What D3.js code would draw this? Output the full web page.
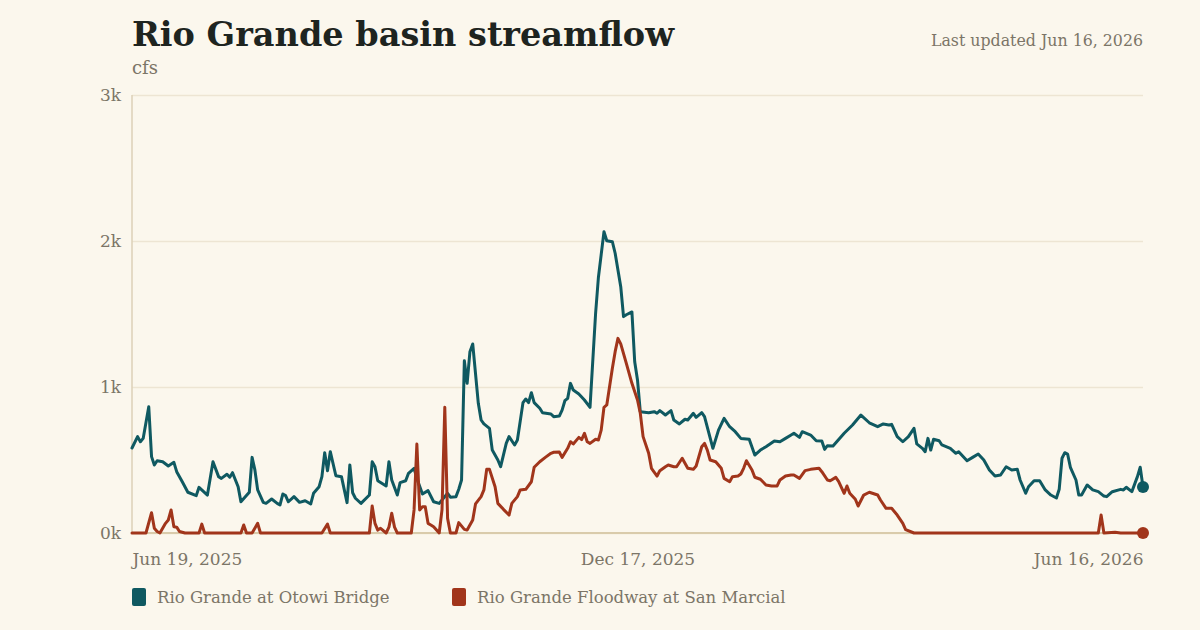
<!DOCTYPE html>
<html>
<head>
<meta charset="utf-8">
<script src="https://cdn.jsdelivr.net/npm/d3@7"></script>
<style>
  html, body { margin: 0; padding: 0; background: #fbf7ed; }
  svg { display: block; font-family: Georgia, "DejaVu Serif", serif; }
  .axis path { display: none; }
  .axis text { fill: #7b7567; font-size: 17px; font-family: Georgia, "DejaVu Serif", serif; }
</style>
</head>
<body>
<div id="chart"></div>
<script>
// days since Jun 19, 2025 and daily flow (cfs)
const startDate = "2025-06-19";
const endDate = "2026-06-16";

const otowiDays = [0, 2, 3, 4, 6, 7, 8, 9, 11, 13, 15, 16, 18, 20, 23, 24, 27, 29, 31, 32, 34, 35, 36, 38, 39,
  42, 43, 44, 45, 47, 48, 50, 52, 53, 54, 55, 56, 58, 60, 62, 64, 65, 67, 68, 69, 70, 71, 73, 75, 77, 78, 79, 80,
  82, 85, 86, 87, 88, 91, 92, 93, 95, 96, 98, 99, 101, 102, 104, 106, 108, 110, 113, 114, 116, 117, 118, 119,
  120, 121, 122, 124, 125, 126, 128, 129, 131, 132, 134, 135, 137, 138, 140, 141, 142, 143, 144, 146, 147,
  150, 151, 153, 154, 155, 156, 157, 158, 160, 162, 164, 166, 167, 169, 170, 172, 173, 175, 176, 177, 179,
  180, 181, 182, 185, 187, 188, 189, 191, 193, 194, 196, 198, 199, 201, 202, 204, 205, 208, 210, 212, 214,
  216, 218, 221, 223, 225, 227, 230, 232, 234, 236, 237, 239, 240, 243, 245, 247, 248, 249, 251, 255, 258,
  261, 264, 267, 269, 271, 272, 274, 276, 278, 280, 281, 283, 284, 285, 286, 287, 289, 290, 293, 295, 296,
  299, 301, 303, 305, 307, 309, 311, 313, 315, 317, 318, 320, 321, 323, 325, 327, 329, 331, 332, 333, 334,
  335, 336, 338, 339, 340, 342, 344, 346, 348, 349, 351, 354, 355, 356, 358, 360, 361, 362];
const otowiFlow = [582, 660, 625, 648, 865, 523, 466, 495, 488, 459, 484, 420, 351, 279, 256, 313, 260, 488, 386,
  374, 402, 382, 413, 317, 214, 279, 518, 432, 295, 210, 203, 233, 203, 192, 267, 256, 214, 249, 210, 221, 199,
  272, 317, 386, 550, 427, 557, 392, 386, 208, 466, 276, 238, 203, 260, 488, 454, 358, 322, 488, 363, 260, 345,
  358, 409, 443, 374, 267, 290, 214, 203, 272, 245, 249, 300, 363, 1180, 1025, 1242, 1295, 888, 774, 747, 717,
  568, 500, 454, 614, 660, 603, 637, 893, 918, 893, 961, 893, 854, 824, 815, 797, 801, 842, 906, 922, 1025,
  979, 952, 911, 861, 1505, 1750, 2064, 2002, 1995, 1916, 1687, 1482, 1495, 1514, 1173, 1048, 831, 824, 831,
  820, 838, 808, 838, 774, 747, 779, 774, 820, 792, 824, 797, 580, 705, 785, 728, 694, 648, 642, 534, 568,
  591, 630, 625, 648, 671, 683, 655, 694, 671, 632, 630, 573, 598, 596, 683, 740, 808, 755, 728, 747, 740,
  744, 660, 625, 660, 717, 610, 580, 557, 648, 568, 642, 632, 603, 580, 546, 557, 495, 518, 541, 500, 432,
  390, 397, 454, 432, 436, 363, 272, 317, 358, 358, 295, 260, 240, 300, 512, 550, 541, 450, 363, 260, 260,
  329, 295, 283, 253, 249, 283, 299, 295, 313, 283, 386, 450, 315];

const marcialDays = [0, 5, 7, 8, 9, 10, 12, 13, 14, 15, 16, 17, 19, 24, 25, 26, 39, 40, 41, 43, 45, 46, 68, 70, 71,
  85, 86, 87, 88, 89, 91, 92, 93, 94, 95, 100, 101, 102, 103, 104, 105, 106, 107, 108, 110, 111, 112, 113, 114,
  116, 117, 119, 120, 122, 123, 125, 126, 127, 128, 130, 131, 133, 135, 136, 138, 139, 141, 143, 144, 146, 148,
  150, 151, 153, 154, 156, 157, 158, 160, 161, 162, 163, 164, 166, 167, 168, 169, 170, 172, 173, 174, 175, 177,
  179, 181, 182, 183, 185, 186, 188, 189, 191, 192, 194, 195, 197, 199, 201, 202, 204, 205, 206, 207, 209, 211,
  212, 214, 215, 217, 218, 219, 220, 222, 223, 225, 227, 229, 231, 232, 234, 236, 237, 239, 241, 243, 246, 247,
  249, 250, 252, 253, 255, 256, 257, 259, 260, 262, 264, 267, 268, 270, 272, 274, 276, 277, 280, 346, 347, 348,
  352, 354, 362];
const marcialFlow = [0, 0, 139, 32, 10, 0, 66, 89, 158, 43, 40, 10, 0, 0, 61, 0, 0, 55, 0, 0, 66, 0, 0, 61, 0,
  0, 185, 66, 20, 32, 0, 40, 135, 40, 0, 0, 158, 610, 158, 180, 180, 66, 55, 43, 0, 158, 861, 100, 0,
  0, 71, 25, 20, 89, 199, 249, 295, 436, 436, 317, 203, 162, 123, 203, 249, 295, 299, 351, 450, 488, 518,
  546, 553, 555, 518, 580, 625, 610, 655, 640, 683, 625, 614, 642, 637, 705, 861, 877, 1128, 1242, 1333, 1295, 1162,
  1025, 911, 820, 660, 546, 443, 390, 427, 454, 466, 454, 454, 512, 443, 436, 459, 591, 614, 568, 500, 488, 443,
  374, 351, 386, 390, 404, 443, 495, 432, 382, 368, 329, 322, 322, 363, 390, 397, 397, 374, 427, 436, 443, 420,
  363, 358, 381, 354, 272, 322, 272, 231, 185, 260, 279, 260, 226, 169, 169, 123, 66, 23, 0, 0, 123, 0,
  5, 0, 0];

const seriesNames = ["Rio Grande at Otowi Bridge", "Rio Grande Floodway at San Marcial"];
const yTicks = [0, 1000, 2000, 3000];
const xTickDates = ["2025-06-19", "2025-12-17", "2026-06-16"];

const W = 1200, H = 630;
const margin = {top: 95, right: 57, bottom: 97, left: 132};
const width = W - margin.left - margin.right;
const height = H - margin.top - margin.bottom;

const parse = d3.timeParse("%Y-%m-%d");
const t0 = parse(startDate);
function toRows(days, flow) {
  return days.map((d, i) => ({date: d3.timeDay.offset(t0, d), value: flow[i]}));
}
const series = [
  {name: seriesNames[0], color: "#0f5961", rows: toRows(otowiDays, otowiFlow)},
  {name: seriesNames[1], color: "#a1351b", rows: toRows(marcialDays, marcialFlow)}
];

const svg = d3.select("#chart").append("svg")
  .attr("width", W)
  .attr("height", H);

svg.append("rect").attr("width", W).attr("height", H).attr("fill", "#fbf7ed");

const x = d3.scaleTime()
  .domain([t0, parse(endDate)])
  .range([0, width]);

const y = d3.scaleLinear()
  .domain([0, 3000])
  .range([height, 0]);

const chart = svg.append("g")
  .attr("transform", `translate(${margin.left},${margin.top})`);

// gridlines + y labels
chart.append("g")
  .attr("class", "axis y")
  .call(d3.axisLeft(y).tickValues(yTicks).tickSize(-width).tickPadding(11)
    .tickFormat(d => (d / 1000) + "k"))
  .call(g => g.selectAll(".tick line").attr("stroke", "#ede5d3").attr("stroke-width", 1.5));

// left rule and baseline
chart.append("line")
  .attr("x1", 0).attr("x2", 0).attr("y1", 0).attr("y2", height)
  .attr("stroke", "#ddd1b7").attr("stroke-width", 1.5);
chart.append("line")
  .attr("x1", 0).attr("x2", width).attr("y1", height).attr("y2", height)
  .attr("stroke", "#d9cbab").attr("stroke-width", 2);

// x labels
const xAxis = chart.append("g")
  .attr("class", "axis x")
  .attr("transform", `translate(0,${height})`)
  .call(d3.axisBottom(x).tickValues(xTickDates.map(parse)).tickSize(0).tickPadding(20)
    .tickFormat(d3.timeFormat("%b %-d, %Y")));
xAxis.selectAll(".tick text")
  .attr("text-anchor", (d, i) => i === 0 ? "start" : i === xTickDates.length - 1 ? "end" : "middle");

const line = d3.line()
  .x(d => x(d.date))
  .y(d => y(d.value));

series.forEach(s => {
  chart.append("path")
    .datum(s.rows)
    .attr("fill", "none")
    .attr("stroke", s.color)
    .attr("stroke-width", 3)
    .attr("stroke-linejoin", "round")
    .attr("stroke-linecap", "round")
    .attr("d", line);
});

series.forEach(s => {
  const last = s.rows[s.rows.length - 1];
  chart.append("circle")
    .attr("cx", x(last.date))
    .attr("cy", y(last.value))
    .attr("r", 6)
    .attr("fill", s.color);
});

// titles
svg.append("text")
  .attr("x", margin.left).attr("y", 46)
  .attr("fill", "#1e2420")
  .attr("font-size", 33.5)
  .attr("font-weight", "bold")
  .text("Rio Grande basin streamflow");

svg.append("text")
  .attr("x", margin.left).attr("y", 74)
  .attr("fill", "#7b7567")
  .attr("font-size", 18)
  .text("cfs");

svg.append("text")
  .attr("x", margin.left + width).attr("y", 46)
  .attr("text-anchor", "end")
  .attr("fill", "#7b7567")
  .attr("font-size", 15.8)
  .text("Last updated " + d3.timeFormat("%b %-d, %Y")(parse(endDate)));

// legend
const legendX = [0, 320];
const legend = svg.append("g")
  .attr("transform", `translate(${margin.left},${H - 33})`);
series.forEach((s, i) => {
  const g = legend.append("g").attr("transform", `translate(${legendX[i]},0)`);
  g.append("rect")
    .attr("x", 0).attr("y", -9)
    .attr("width", 14).attr("height", 18).attr("rx", 2)
    .attr("fill", s.color);
  g.append("text")
    .attr("x", 25).attr("y", 6)
    .attr("fill", "#7b7567")
    .attr("font-size", 16.5)
    .text(s.name);
});
</script>
</body>
</html>
